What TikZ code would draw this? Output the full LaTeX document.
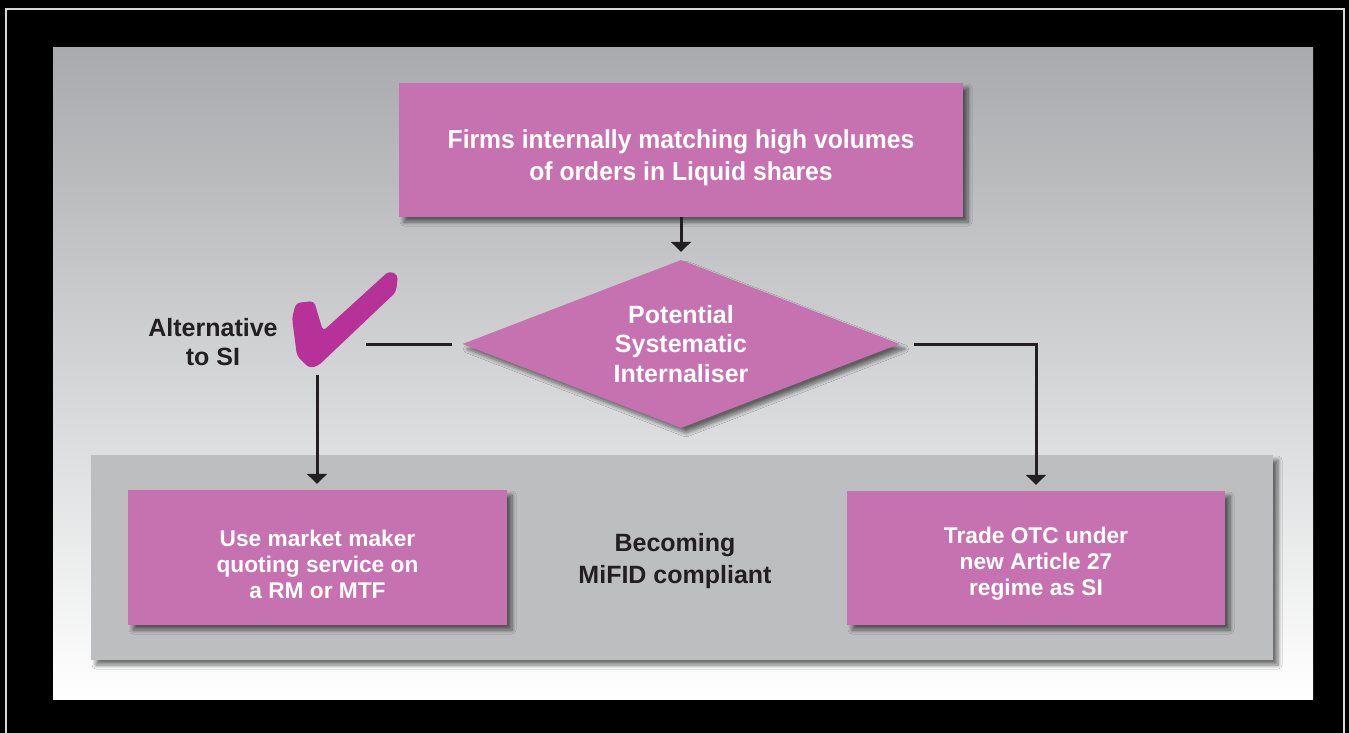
\documentclass[tikz,border=0pt]{standalone}
\usepackage{fontspec}
\setmainfont{Liberation Sans}
\newfontfamily\condfont{Liberation Sans}[FakeStretch=0.95]
\usetikzlibrary{shapes.geometric,arrows.meta,shadows.blur}
\definecolor{pinkbox}{RGB}{198,113,176}
\definecolor{checkmag}{RGB}{183,50,152}
\definecolor{inkc}{RGB}{35,31,32}
\definecolor{zonegray}{RGB}{189,190,192}
\definecolor{bgtop}{RGB}{168,170,173}
\definecolor{bgmid}{RGB}{212,213,215}
\definecolor{framec}{RGB}{215,215,215}
\tikzset{
  shad/.style={blur shadow={shadow xshift=5pt,shadow yshift=-5pt,shadow blur steps=8,shadow blur radius=4pt,shadow opacity=55}},
  pinkrect/.style={rectangle,fill=pinkbox,shad,inner sep=0pt},
  pinktext/.style={text=white,align=center,inner sep=0pt,font=\bfseries\fontsize{22.7}{26}\selectfont},
  pinkdiam/.style={diamond,fill=pinkbox,shad,inner sep=0pt},
  zonebox/.style={rectangle,fill=zonegray,shad,inner sep=0pt},
  darktext/.style={text=inkc,align=center,font=\bfseries\fontsize{25}{29.5}\selectfont},
  conn/.style={draw=inkc,line width=3pt},
  arr/.style={conn,-{Triangle[width=20pt,length=10pt]}},
}
\begin{document}
\begin{tikzpicture}[x=1pt,y=-1pt]
\fill[black] (0,0) rectangle (1349,733);
\useasboundingbox (0,0) rectangle (1349,733);
\draw[framec,line width=1.5pt] (6,733) -- (6,9) -- (1344,9) -- (1344,733);
\shade[top color=bgtop,middle color=bgmid,bottom color=white] (53,48) rectangle (1313,699);

\node[zonebox,minimum width=1182pt,minimum height=205pt] (zone) at (682,557.5) {};

\node[pinkrect,minimum width=564pt,minimum height=134pt] (firms) at (681,150) {};
\node[pinktext,font=\condfont\bfseries\fontsize{26}{32}\selectfont] (firmstext) at ([yshift=-8pt]firms.center)
  {Firms internally matching high volumes\\of orders in Liquid shares};
\node[pinkdiam,minimum width=437pt,minimum height=168pt] (pot) at (681,344) {};
\node[darktext,text=white] (pottext) at (pot.center) {Potential\\Systematic\\Internaliser};

\node[pinkrect,minimum width=379pt,minimum height=135pt] (use) at (317.5,557.5) {};
\node[pinktext] (usetext) at ([yshift=-7pt]use.center) {Use market maker\\quoting service on\\a RM or MTF};
\node[pinkrect,minimum width=378pt,minimum height=134pt] (trade) at (1036,558) {};
\node[pinktext] (tradetext) at ([yshift=-6pt]trade.center) {Trade OTC under\\new Article 27\\regime as SI};
\node[darktext,font=\bfseries\fontsize{25}{32}\selectfont] (mifid) at (675,561) {Becoming\\MiFID compliant};
\node[darktext] (alt) at (213,342) {Alternative\\to SI};

% check mark
\fill[checkmag,rounded corners=4pt] (292,318) -- (296,303) -- (314,301) -- (323,331) -- (389,271) -- (398,275) -- (396,292) -- (318,366) -- (309,368) -- (297,356) -- cycle;
\coordinate (chkR) at (366,344);
\coordinate (chkB) at (317,375);

\draw[arr,shorten >=8pt] (firms.south) -- (pot.north);
\draw[conn] ([xshift=-10pt]pot.west) -- (chkR);
\draw[arr,shorten >=6pt] (chkB) -- (chkB |- use.north);
\draw[arr,shorten >=6pt] ([xshift=14pt]pot.east) -| (trade.north);
\end{tikzpicture}
\end{document}
